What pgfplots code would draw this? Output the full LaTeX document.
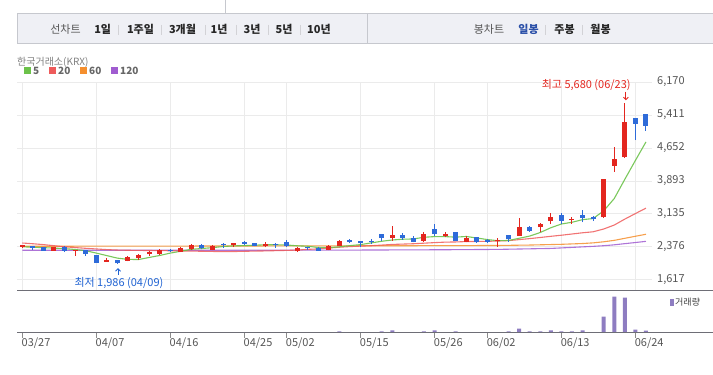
\documentclass[border=0pt]{standalone}
\usepackage{fontspec}
\setmainfont{Noto Sans CJK KR}
\usepackage{pgfplots}
\pgfplotsset{compat=1.18}
\usepackage{pgfplotstable}
\usetikzlibrary{arrows.meta}

\definecolor{cred}{HTML}{E3261F}
\definecolor{cblue}{HTML}{2E6BD9}
\definecolor{clow}{HTML}{1F62D2}
\definecolor{ma5}{HTML}{6CC24A}
\definecolor{ma20}{HTML}{EE5B5B}
\definecolor{ma60}{HTML}{F58F2E}
\definecolor{ma120}{HTML}{A05CD0}
\definecolor{vol}{HTML}{8E7DC1}
\definecolor{gridc}{HTML}{EBEBEB}
\definecolor{axisc}{HTML}{6E6E76}
\definecolor{txtc}{HTML}{555555}
\definecolor{boxfill}{HTML}{EFF0F5}
\definecolor{boxline}{HTML}{C6C8CE}
\definecolor{sepc}{HTML}{D2D2D6}
\definecolor{selc}{HTML}{2A4FA8}

\newcommand\fs[1]{\fontsize{#1}{#1}\selectfont}

% up candles (close >= open): index open high low close
\pgfplotstableread{
i o h l c
0 2385 2430 2345 2392
3 2291 2370 2285 2367
5 2285 2306 2176 2291
8 2038 2122 2036 2076
10 2061 2168 2045 2145
11 2122 2222 2084 2199
12 2206 2275 2176 2252
13 2214 2329 2199 2306
15 2260 2367 2255 2352
16 2337 2444 2306 2413
18 2314 2410 2300 2398
20 2425 2467 2375 2433
23 2398 2490 2367 2444
26 2275 2375 2270 2352
29 2306 2421 2300 2398
30 2398 2528 2390 2505
35 2582 2866 2521 2651
38 2521 2720 2498 2674
40 2636 2720 2597 2659
42 2498 2628 2482 2574
45 2505 2574 2383 2513
47 2636 3042 2630 2827
49 2835 2927 2728 2904
50 2973 3157 2904 3057
52 2988 3065 2912 3027
55 3057 3945 3050 3939
56 4246 4667 4108 4399
57 4437 5680 4430 5242
}\up

% down candles (close < open)
\pgfplotstableread{
i o h l c
1 2390 2392 2314 2352
2 2367 2370 2285 2291
4 2367 2390 2260 2291
6 2298 2300 2176 2214
7 2183 2185 2010 2015
9 2076 2080 1986 2000
14 2298 2320 2262 2275
17 2413 2444 2321 2352
19 2420 2467 2360 2410
21 2498 2521 2413 2444
22 2467 2475 2390 2398
24 2428 2467 2360 2418
25 2490 2536 2375 2398
27 2356 2383 2306 2348
28 2360 2365 2285 2291
31 2536 2559 2467 2490
32 2513 2520 2383 2467
33 2490 2559 2452 2480
34 2674 2680 2513 2590
36 2651 2689 2544 2582
37 2582 2636 2482 2498
39 2789 2904 2636 2666
41 2720 2725 2515 2521
43 2605 2610 2475 2498
44 2544 2552 2475 2490
46 2651 2655 2498 2551
48 2835 2866 2728 2751
51 3103 3157 2896 2981
53 3111 3226 2942 3050
54 3040 3096 2973 3030
58 5334 5340 4836 5212
59 5434 5440 5051 5166
}\down

\pgfplotstableread{
i v
0 2380
1 2370
2 2360
3 2350
4 2338
5 2318
6 2290
7 2235
8 2177
9 2119
10 2090
11 2087
12 2134
13 2180
14 2235
15 2278
16 2322
17 2341
18 2360
19 2386
20 2401
21 2407
22 2417
23 2426
24 2427
25 2421
26 2403
27 2393
28 2363
29 2358
30 2379
31 2407
32 2430
33 2469
34 2507
35 2536
36 2554
37 2560
38 2599
39 2614
40 2614
41 2602
42 2617
43 2582
44 2546
45 2519
46 2525
47 2576
48 2626
49 2709
50 2818
51 2904
52 2944
53 3004
54 3030
55 3206
56 3490
57 3933
58 4366
59 4792
}\mafive

\pgfplotstableread{
i v
0 2467
1 2450
2 2430
3 2405
4 2380
5 2362
6 2345
7 2330
8 2315
9 2305
10 2300
11 2297
12 2294
13 2292
14 2289
15 2285
16 2281
17 2277
18 2273
19 2269
20 2271
21 2276
22 2281
23 2285
24 2291
25 2297
26 2304
27 2321
28 2331
29 2352
30 2370
31 2385
32 2395
33 2404
34 2419
35 2434
36 2442
37 2450
38 2463
39 2476
40 2487
41 2491
42 2500
43 2502
44 2506
45 2512
46 2522
47 2545
48 2568
49 2594
50 2621
51 2646
52 2674
53 2702
54 2725
55 2789
56 2880
57 3017
58 3144
59 3269
}\matwenty

\pgfplotstableread{
i v
0 2392
10 2395
20 2398
30 2402
40 2406
45 2410
48 2420
51 2437
53 2455
54 2470
55 2495
56 2528
57 2575
58 2622
59 2668
}\masixty

\pgfplotstableread{
i v
0 2300
20 2300
30 2303
40 2312
45 2320
50 2342
54 2390
55 2405
56 2425
57 2452
58 2478
59 2505
}\maonetwenty

\pgfplotstableread{
i v
30 1.3
34 1.3
35 2.3
38 1.3
39 2.3
41 1.3
46 1.3
47 4
48 1.3
49 1.3
50 2.3
51 1.3
52 1.3
53 2.3
55 16
56 36
57 35
58 3
59 2
}\volume

\begin{document}
\begin{tikzpicture}[x=1pt,y=1pt]
\useasboundingbox (0,0) rectangle (713,375);

% ---- top selector box ----
\fill[boxfill] (17,361.7) rectangle (713,331);
\draw[boxline, line width=1pt] (713,361.7) -- (17,361.7) -- (17,331) -- (713,331);
\draw[boxline, line width=1pt] (367,361.7) -- (367,331);
\draw[boxline, line width=0.8pt] (225,375) -- (225,361.7);
\foreach \xx in {118,161,205,236,268,300,545,582}{
  \draw[sepc, line width=0.7pt] (\xx,350) -- (\xx,340);
}
\begin{scope}[every node/.style={anchor=base, inner sep=0pt}]
\node[text=txtc, font=\fs{11}] at (65.5,341) {선차트};
\node[text=black!85, font=\fs{11}\bfseries] at (102.7,341) {1일};
\node[text=black!85, font=\fs{11}\bfseries] at (140.5,341) {1주일};
\node[text=black!85, font=\fs{11}\bfseries] at (182.5,341) {3개월};
\node[text=black!85, font=\fs{11}\bfseries] at (219,341) {1년};
\node[text=black!85, font=\fs{11}\bfseries] at (252,341) {3년};
\node[text=black!85, font=\fs{11}\bfseries] at (284,341) {5년};
\node[text=black!85, font=\fs{11}\bfseries] at (319,341) {10년};
\node[text=txtc, font=\fs{11}] at (489,341) {봉차트};
\node[text=selc, font=\fs{11}\bfseries] at (528.5,341) {일봉};
\node[text=black!85, font=\fs{11}\bfseries] at (564.5,341) {주봉};
\node[text=black!85, font=\fs{11}\bfseries] at (600.5,341) {월봉};
\end{scope}

% ---- legend ----
\node[anchor=base west, inner sep=0pt, text=black!50, font=\fs{10}] at (17,309.5) {한국거래소(KRX)};
\fill[ma5]   (24,300.5) rectangle (31,307.5);
\fill[ma20]  (49,300.5) rectangle (56,307.5);
\fill[ma60]  (80,300.5) rectangle (87,307.5);
\fill[ma120] (111,300.5) rectangle (118,307.5);
\begin{scope}[every node/.style={anchor=base west, inner sep=0pt, text=black!60, font=\fs{10}\bfseries}]
\node at (33,300.5) {5};
\node at (58,300.5) {20};
\node at (89,300.5) {60};
\node at (120,300.5) {120};
\end{scope}

% ---- price panel ----
\begin{axis}[
  at={(17pt,84.3pt)}, anchor=south west,
  width=635pt, height=208.7pt, scale only axis,
  xmin=-0.5, xmax=59.57, ymin=1370, ymax=6170,
  axis line style={draw=none},
  xtick={0,7,14,21,25,32,39,44,51,58}, xticklabels=\empty,
  ytick={1617,2376,3135,3893,4652,5411,6170},
  yticklabel pos=right,
  yticklabel style={anchor=west, inner sep=0pt, xshift=5pt, text=txtc, font=\fs{11}},
  /pgf/number format/1000 sep={,},
  /pgf/number format/assume math mode=true,
  tick style={draw=none},
  grid=major, major grid style={gridc, line width=1pt},
  clip=false,
]
\addplot[ma120, line width=1.1pt, opacity=0.85] table[x=i, y=v] {\maonetwenty};
\addplot[ma60, line width=1.1pt, opacity=0.85] table[x=i, y=v] {\masixty};
\addplot[ma20, line width=1.1pt, opacity=0.85] table[x=i, y=v] {\matwenty};
\addplot[ma5, line width=1.1pt, opacity=0.9] table[x=i, y=v] {\mafive};
% wicks
\addplot[draw=none, mark=none, forget plot,
  error bars/.cd, y dir=plus, y explicit, error mark=none,
  error bar style={draw=cred, line width=1pt}]
  table[x=i, y=l, y error plus expr={\thisrow{h}-\thisrow{l}}] {\up};
\addplot[draw=none, mark=none, forget plot,
  error bars/.cd, y dir=plus, y explicit, error mark=none,
  error bar style={draw=cblue, line width=1pt}]
  table[x=i, y=l, y error plus expr={\thisrow{h}-\thisrow{l}}] {\down};
% bodies
\addplot[draw=none, mark=none, forget plot,
  error bars/.cd, y dir=plus, y explicit, error mark=none,
  error bar style={draw=cred, line width=5pt}]
  table[x=i, y=o, y error plus expr={max(\thisrow{c}-\thisrow{o},32)}] {\up};
\addplot[draw=none, mark=none, forget plot,
  error bars/.cd, y dir=plus, y explicit, error mark=none,
  error bar style={draw=cblue, line width=5pt}]
  table[x=i, y=c, y error plus expr={max(\thisrow{o}-\thisrow{c},32)}] {\down};
% annotations
\node[anchor=base east, inner sep=0pt, text=cred, font=\fs{11}]
  at (axis cs:57,5680) [xshift=6pt, yshift=14.8pt] {최고 5,680 (06/23)};
\draw[cred, line width=0.9pt, -{Straight Barb[length=2.5pt,width=5pt]}]
  ([xshift=1pt,yshift=11.6pt]axis cs:57,5680) -- ([xshift=1pt,yshift=3pt]axis cs:57,5680);
\node[anchor=base, inner sep=0pt, text=clow, font=\fs{11}]
  at (axis cs:9,1986) [xshift=1.5pt, yshift=-23pt] {최저 1,986 (04/09)};
\draw[clow, line width=0.9pt, -{Straight Barb[length=2.5pt,width=5pt]}]
  ([xshift=0.6pt,yshift=-11pt]axis cs:9,1986) -- ([xshift=0.6pt,yshift=-4.2pt]axis cs:9,1986);
\end{axis}
\draw[axisc, line width=1.2pt] (17,84.3) -- (713,84.3);

% ---- volume panel ----
\begin{axis}[
  at={(17pt,42.3pt)}, anchor=south west,
  width=635pt, height=42pt, scale only axis,
  xmin=-0.5, xmax=59.57, ymin=0, ymax=42,
  axis line style={draw=none},
  ytick=\empty,
  xtick={0,7,14,21,25,32,39,44,51,58},
  xticklabels={03/27,04/07,04/16,04/25,05/02,05/15,05/26,06/02,06/13,06/24},
  xtick pos=bottom, tick align=outside, major tick length=5pt,
  xtick style={draw=black!45, line width=0.8pt},
  xticklabel style={anchor=north west, inner sep=0pt, xshift=-0.8pt, text=txtc, font=\fs{11}},
  clip=false,
]
\addplot[ybar, bar width=4pt, fill=vol, draw=none] table[x=i, y=v] {\volume};
\end{axis}
\draw[axisc, line width=1.2pt] (17,42.3) -- (713,42.3);
\fill[vol] (670,69) rectangle (673.5,75.5);
\node[anchor=base west, inner sep=0pt, text=black!75, font=\fs{9}] at (675,69) {거래량};
\end{tikzpicture}
\end{document}
